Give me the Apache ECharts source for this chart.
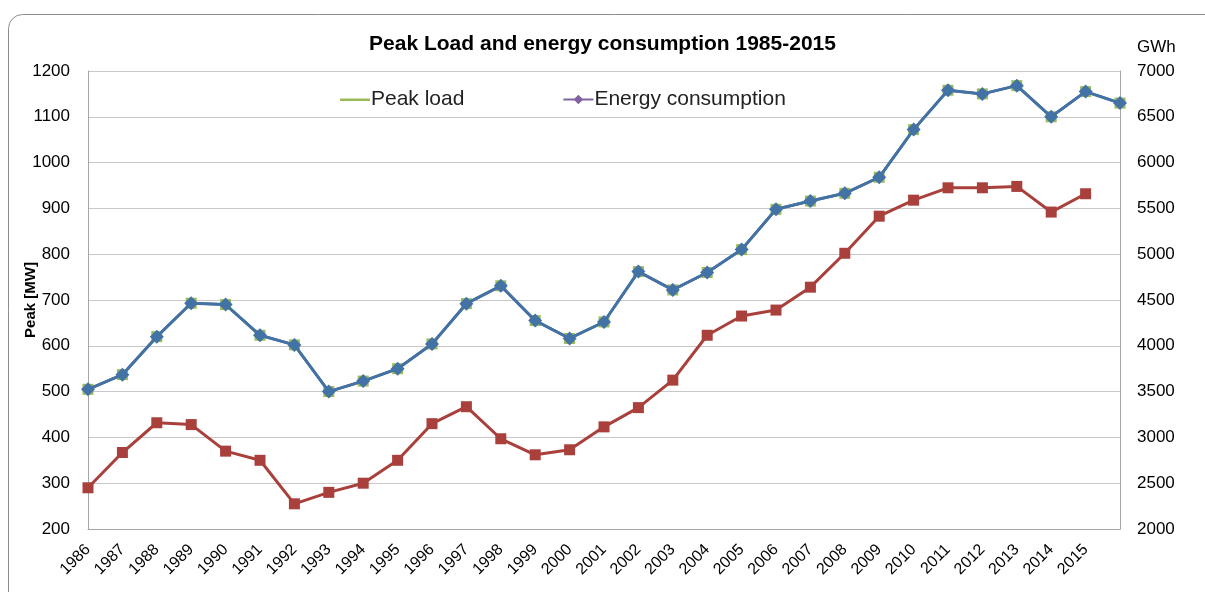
<!DOCTYPE html>
<html>
<head>
    <meta charset="utf-8">
    <title>Peak Load and energy consumption 1985-2015</title>
    <script src="https://cdn.jsdelivr.net/npm/echarts@6/dist/echarts.min.js"></script>
    <style>
        html, body { margin: 0; padding: 0; background: #fff; }
        #chart1 { width: 1205px; height: 592px; }
    </style>
</head>
<body>
<div id="chart1"></div>
<script type="text/javascript">
    // categories (last slot has no label)
    let years = ['1986', '1987', '1988', '1989', '1990', '1991', '1992', '1993', '1994', '1995',
        '1996', '1997', '1998', '1999', '2000', '2001', '2002', '2003', '2004', '2005',
        '2006', '2007', '2008', '2009', '2010', '2011', '2012', '2013', '2014', '2015', ''];

    // blue line, left axis (MW)
    let peakValues = [505, 537, 620, 693, 690, 623, 602, 500, 523, 550,
        604, 692, 731, 655, 616, 652, 762, 722, 760, 810,
        898, 916, 933, 968, 1072, 1158, 1150, 1168, 1100, 1155, 1130];

    // red line, right axis (GWh)
    let energyValues = [2450, 2835, 3160, 3140, 2850, 2750, 2275, 2400, 2500, 2750,
        3150, 3335, 2985, 2810, 2865, 3115, 3325, 3625, 4115, 4325,
        4390, 4640, 5010, 5415, 5590, 5725, 5725, 5740, 5460, 5660];

    let leftTicks = [200, 1200, 100];
    let rightTicks = [2000, 7000, 500];

    let myChart1 = echarts.init(document.getElementById('chart1'));

    let fontName = 'Liberation Sans, Arial, sans-serif';
    // plain line icon for the legend (small dots keep the box 30x12)
    let lineIcon = 'path://M0,0L0.01,0L0.01,0.01ZM0,5L30,5L30,7.5L0,7.5ZM0,12L0.01,12L0.01,12.01Z';
    let plain = function (v) { return String(v); };

    myChart1.setOption({
        animation: false,
        textStyle: { fontFamily: fontName },
        title: {
            text: 'Peak Load and energy consumption 1985-2015',
            left: 'center',
            top: 29,
            textStyle: { fontSize: 21, fontWeight: 'bold', color: '#000', fontFamily: fontName }
        },
        legend: {
            data: [{ name: 'Peak load', icon: lineIcon }, 'Energy consumption'],
            top: 84,
            left: 335,
            itemGap: 98,
            itemWidth: 30,
            itemHeight: 12,
            textStyle: { fontSize: 21, color: '#222', fontFamily: fontName, padding: [0, 0, 0, -4] }
        },
        graphic: [
            {
                type: 'rect',
                shape: { x: 8.5, y: 14.5, width: 1230, height: 600, r: 14 },
                style: { fill: 'none', stroke: '#8c8c8c', lineWidth: 1 },
                silent: true
            },
            {
                type: 'text',
                left: 1137,
                top: 39,
                style: { text: 'GWh', fontSize: 17, fill: '#000', fontFamily: fontName }
            }
        ],
        grid: { left: 88, right: 85, top: 71, bottom: 63, containLabel: false, outerBoundsMode: 'none' },
        xAxis: {
            type: 'category',
            data: years,
            boundaryGap: false,
            axisLine: { lineStyle: { color: '#a6a6a6' } },
            axisTick: { show: false },
            axisLabel: { rotate: 45, fontSize: 16, color: '#000', margin: 18, interval: 0 }
        },
        yAxis: [
            {
                type: 'value',
                min: leftTicks[0],
                max: leftTicks[1],
                interval: leftTicks[2],
                name: 'Peak [MW]',
                nameLocation: 'middle',
                nameGap: 50,
                nameMoveOverlap: false,
                nameTextStyle: { fontSize: 15, fontWeight: 'bold', color: '#000' },
                axisLine: { show: true, lineStyle: { color: '#a6a6a6' } },
                axisTick: { show: false },
                axisLabel: { fontSize: 17, color: '#000', margin: 18, formatter: plain },
                splitLine: { lineStyle: { color: '#c8c8c8' } }
            },
            {
                type: 'value',
                min: rightTicks[0],
                max: rightTicks[1],
                interval: rightTicks[2],
                position: 'right',
                axisLine: { show: true, lineStyle: { color: '#a6a6a6' } },
                axisTick: { show: false },
                axisLabel: { fontSize: 17, color: '#000', margin: 17, formatter: plain },
                splitLine: { show: false }
            }
        ],
        series: [
            {
                name: 'Peak load',
                type: 'line',
                data: peakValues,
                symbol: 'none',
                lineStyle: { color: '#9bbb59', width: 2.5 },
                itemStyle: { color: '#9bbb59' },
                z: 1
            },
            {
                name: 'pl-markers',
                type: 'line',
                data: peakValues,
                symbol: 'rect',
                symbolSize: 11,
                lineStyle: { width: 0 },
                itemStyle: { color: '#9bbb59' },
                z: 2
            },
            {
                name: 'Energy consumption',
                type: 'line',
                data: peakValues,
                symbol: 'diamond',
                symbolSize: 9,
                lineStyle: { color: '#8064a2', width: 2.5 },
                itemStyle: { color: '#8064a2' },
                z: 3
            },
            {
                name: 'peak',
                type: 'line',
                data: peakValues,
                symbol: 'diamond',
                symbolSize: 14,
                lineStyle: { color: '#4372a6', width: 3 },
                itemStyle: { color: '#4372a6' },
                z: 4
            },
            {
                name: 'energy',
                type: 'line',
                yAxisIndex: 1,
                data: energyValues,
                symbol: 'rect',
                symbolSize: 11,
                lineStyle: { color: '#a9403c', width: 3 },
                itemStyle: { color: '#a9403c' },
                z: 4
            }
        ]
    });
</script>
</body>
</html>
